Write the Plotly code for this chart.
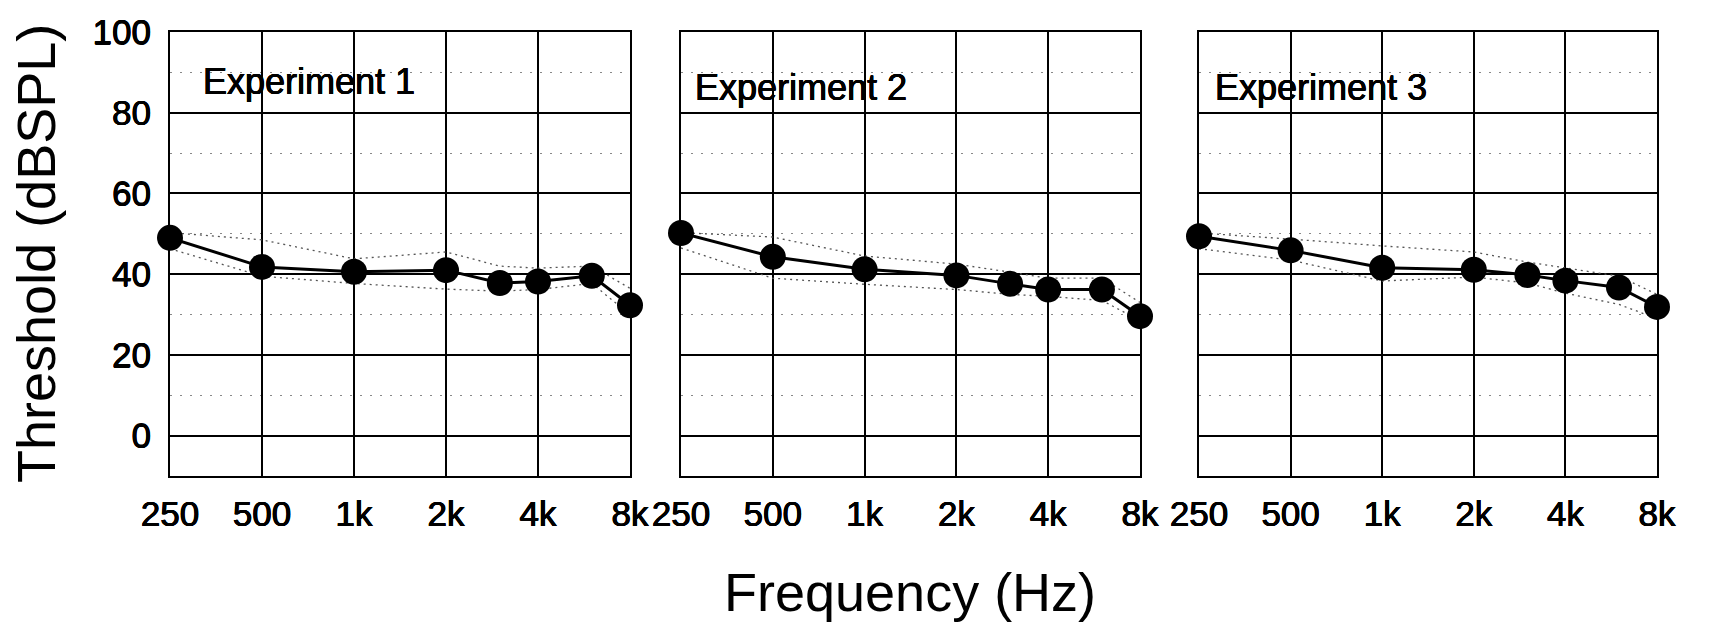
import plotly.graph_objects as go

# Test frequencies (Hz) and axis labelling
freqs = [250, 500, 1000, 2000, 3000, 4000, 6000, 8000]
tick_freqs = [250, 500, 1000, 2000, 4000, 8000]
tick_text = ["250", "500", "1k", "2k", "4k", "8k"]
threshold_ticks = [0, 20, 40, 60, 80, 100]

# Mean thresholds (dB SPL) per experiment
exp1_mean = [49.0, 41.8, 40.6, 41.0, 37.8, 38.2, 39.6, 32.3]
exp2_mean = [50.2, 44.3, 41.2, 39.7, 37.6, 36.2, 36.2, 29.6]
exp3_mean = [49.4, 45.9, 41.6, 41.1, 39.8, 38.4, 36.7, 31.9]

# Dotted spread lines (upper / lower) per experiment
exp1_upper = [50.3, 48.5, 43.8, 45.5, 42.0, 41.5, 42.0, 36.5]
exp1_lower = [46.3, 39.5, 37.7, 36.3, 35.8, 36.2, 37.7, 30.0]
exp2_upper = [50.3, 49.2, 44.5, 42.5, 40.5, 39.0, 39.0, 33.0]
exp2_lower = [46.5, 39.0, 37.5, 36.2, 35.0, 34.5, 33.5, 28.5]
exp3_upper = [50.2, 48.7, 47.0, 45.5, 43.0, 41.5, 39.5, 35.0]
exp3_lower = [46.3, 43.5, 38.3, 39.3, 37.8, 35.3, 32.5, 29.0]

panel_names = ["Experiment 1", "Experiment 2", "Experiment 3"]
means = [exp1_mean, exp2_mean, exp3_mean]
uppers = [exp1_upper, exp2_upper, exp3_upper]
lowers = [exp1_lower, exp2_lower, exp3_lower]

W, H = 1710, 629
ML, MR, MT, MB = 170, 53, 25, 153
plot_w = W - ML - MR
# horizontal pixel extents of the three panels
panel_px = [(170, 630), (681, 1140), (1199, 1657)]
domains = [[(a - ML) / plot_w, min(1.0, (b - ML) / plot_w)] for a, b in panel_px]
label_dx = [0.067, 0.026, 0.031]
label_dy = [0.889, 0.874, 0.874]

FONT = "Arial, Liberation Sans, Helvetica, sans-serif"
# slight stroke thickening for the smaller labels
HEAVY = "0.4px 0 0 #000, -0.4px 0 0 #000, 0 0.4px 0 #000, 0 -0.4px 0 #000"

fig = go.Figure()

for i in range(3):
    xa = "x" if i == 0 else f"x{i + 1}"
    ya = "y" if i == 0 else f"y{i + 1}"
    for band in (uppers[i], lowers[i]):
        fig.add_trace(go.Scatter(
            x=freqs, y=band, xaxis=xa, yaxis=ya, mode="lines",
            line=dict(color="#555555", width=1.3, dash="2px,4px"),
            hoverinfo="skip", showlegend=False,
        ))
    fig.add_trace(go.Scatter(
        x=freqs, y=means[i], xaxis=xa, yaxis=ya, mode="lines+markers",
        line=dict(color="black", width=3),
        marker=dict(color="black", size=26),
        cliponaxis=False, showlegend=False, name=panel_names[i],
    ))

layout = dict(
    width=W, height=H,
    margin=dict(l=ML, r=MR, t=MT, b=MB),
    paper_bgcolor="white", plot_bgcolor="white",
    font=dict(family=FONT, color="black"),
    showlegend=False,
)

tick_font = dict(size=35, family=FONT, color="black", shadow=HEAVY)

for i in range(3):
    xk = "xaxis" if i == 0 else f"xaxis{i + 1}"
    yk = "yaxis" if i == 0 else f"yaxis{i + 1}"
    yref = "y" if i == 0 else f"y{i + 1}"
    xref = "x" if i == 0 else f"x{i + 1}"
    layout[xk] = dict(
        domain=domains[i], anchor=yref, type="log",
        range=[2.39794, 3.90309],
        tickmode="array", tickvals=tick_freqs, ticktext=tick_text,
        showgrid=True, gridcolor="black", gridwidth=2,
        showline=True, mirror=True, linecolor="black", linewidth=2,
        ticks="", ticklabelstandoff=6,
        tickfont=tick_font,
        zeroline=False,
    )
    layout[yk] = dict(
        domain=[0, 1], anchor=xref, range=[-10, 100],
        tickmode="array", tickvals=threshold_ticks,
        showticklabels=(i == 0),
        showgrid=True, gridcolor="black", gridwidth=2,
        showline=True, mirror=True, linecolor="black", linewidth=2,
        ticks="", ticklabelstandoff=10,
        tickfont=tick_font,
        zeroline=False,
        minor=dict(tickmode="array", tickvals=[10, 30, 50, 70, 90],
                   showgrid=True, gridcolor="#888888", gridwidth=1,
                   griddash="2px,8px", ticks=""),
    )

annotations = []
for i in range(3):
    xref = "x domain" if i == 0 else f"x{i + 1} domain"
    yref = "y domain" if i == 0 else f"y{i + 1} domain"
    annotations.append(dict(
        text=panel_names[i], xref=xref, yref=yref,
        x=label_dx[i], y=label_dy[i], xanchor="left", yanchor="middle",
        showarrow=False,
        font=dict(size=36, family=FONT, color="black", shadow=HEAVY),
    ))

annotations.append(dict(
    text="Threshold (dBSPL)", xref="paper", yref="paper",
    x=(36 - ML) / plot_w, y=0.5, xanchor="center", yanchor="middle",
    textangle=-90, showarrow=False,
    font=dict(size=54, family=FONT, color="black"),
))
annotations.append(dict(
    text="Frequency (Hz)", xref="paper", yref="paper",
    x=(910 - ML) / plot_w, y=(H - MB - 594) / (H - MT - MB),
    xanchor="center", yanchor="middle", showarrow=False,
    font=dict(size=54, family=FONT, color="black"),
))
layout["annotations"] = annotations

fig.update_layout(**layout)
fig.write_html("out.html")
